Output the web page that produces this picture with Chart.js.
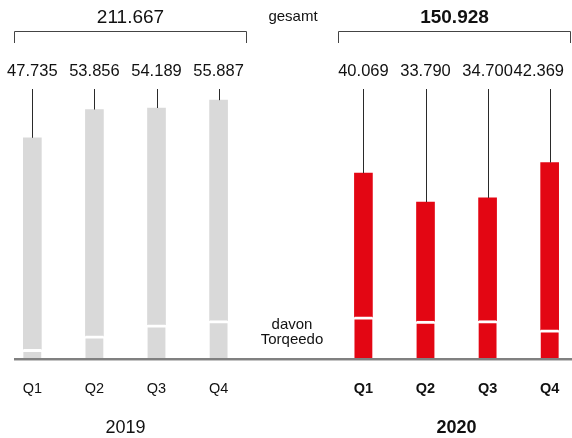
<!DOCTYPE html>
<html><head><meta charset="utf-8">
<script src="https://cdn.jsdelivr.net/npm/chart.js@4.4.0/dist/chart.umd.min.js"></script>
<style>html,body{margin:0;padding:0;background:#fff;}#wrap{width:572px;height:438px;}</style>
</head><body><div id="wrap"><canvas id="c" width="572" height="438"></canvas></div>
<script>
// ---- data ----
const quarters = ['Q1', 'Q2', 'Q3', 'Q4'];
const years = ['2019', '2020'];
const total2019 = [47735, 53856, 54189, 55887];
const total2020 = [40069, 33790, 34700, 42369];
const torq2019 = [1900, 4800, 7200, 8100];
const torq2020 = [8900, 8000, 8100, 6100];
const totalLabel = 'gesamt';
const torqLabel = ['davon', 'Torqeedo'];

// ---- styles ----
const FONT = "'Liberation Sans', Arial, Helvetica, sans-serif";
const TXT = '#111';
const groupColors = ['#d9d9d9', '#e30613'];

function fmt(n) {
  return String(n).replace(/\B(?=(\d{3})+(?!\d))/g, '.');
}

// slot layout: each quarter takes 3 category slots, 6 empty slots between years
const SLOT = 3, GROUP_START = [0, 16], NSLOTS = 26;
const totals = [total2019, total2020];
const torqs = [torq2019, torq2020];
const labels = new Array(NSLOTS).fill('');
const torqData = new Array(NSLOTS).fill(null);
const restData = new Array(NSLOTS).fill(null);
const colors = new Array(NSLOTS).fill('#fff');
const slotGroup = new Array(NSLOTS).fill(-1);
const barSlots = [[], []];
for (let g = 0; g < 2; g++) {
  for (let q = 0; q < quarters.length; q++) {
    const s = GROUP_START[g] + q * SLOT;
    labels[s] = quarters[q];
    torqData[s] = torqs[g][q];
    restData[s] = totals[g][q] - torqs[g][q];
    colors[s] = groupColors[g];
    slotGroup[s] = g;
    barSlots[g].push(s);
  }
}

const overlay = {
  id: 'overlay',
  afterDraw(chart) {
    const c = chart.ctx;
    const meta = chart.getDatasetMeta(1);
    c.save();
    // baseline
    c.fillStyle = '#808080';
    c.fillRect(14, 358, 558, 2);
    c.fillStyle = '#c4c4c4';
    c.fillRect(14, 360, 558, 1);

    const bracketPad = [[18, 27], [25, 20]];
    for (let g = 0; g < 2; g++) {
      const xs = barSlots[g].map(s => meta.data[s].x);
      // leader lines & value labels
      barSlots[g].forEach((s, q) => {
        const el = meta.data[s];
        const lx = Math.round(el.x) + 0.5;
        c.strokeStyle = '#2a2a2a';
        c.lineWidth = 1;
        c.beginPath();
        c.moveTo(lx, 89);
        c.lineTo(lx, el.y);
        c.stroke();
        c.fillStyle = TXT;
        c.font = '16.5px ' + FONT;
        c.textAlign = 'center';
        c.textBaseline = 'alphabetic';
        const t = fmt(totals[g][q]);
        const w = c.measureText(t).width;
        let cx = el.x;
        if (cx + w / 2 > 564) cx = 564 - w / 2;
        if (cx - w / 2 < 3) cx = 3 + w / 2;
        c.fillText(t, cx, 76);
      });
      // bracket
      const L = Math.round(xs[0] - bracketPad[g][0]) + 0.5;
      const R = Math.round(xs[3] + bracketPad[g][1]) + 0.5;
      c.strokeStyle = '#444';
      c.lineWidth = 1;
      c.beginPath();
      c.moveTo(L, 43);
      c.lineTo(L, 31.5);
      c.lineTo(R, 31.5);
      c.lineTo(R, 43);
      c.stroke();
      const sum = totals[g].reduce((a, b) => a + b, 0);
      c.fillStyle = TXT;
      c.font = (g === 1 ? 'bold ' : '') + '19px ' + FONT;
      c.textAlign = 'center';
      c.fillText(fmt(sum), (L + R) / 2, 23);
      // year label
      c.font = (g === 1 ? 'bold ' : '') + '18px ' + FONT;
      c.fillText(years[g], (xs[0] + xs[3]) / 2, 433);
    }
    // middle texts
    c.fillStyle = TXT;
    c.textAlign = 'center';
    c.font = '15px ' + FONT;
    c.fillText(totalLabel, 293, 21);
    c.fillText(torqLabel[0], 292, 329);
    c.fillText(torqLabel[1], 292, 344);
    c.restore();
  }
};

new Chart(document.getElementById('c'), {
  type: 'bar',
  data: {
    labels: labels,
    datasets: [
      { label: torqLabel.join(' '), data: torqData, backgroundColor: colors,
        borderColor: '#ffffff', borderWidth: { top: 3, left: 0, right: 0, bottom: 0 },
        barThickness: 18, stack: 's' },
      { label: totalLabel, data: restData, backgroundColor: colors,
        borderWidth: 0, barThickness: 18, stack: 's' }
    ]
  },
  options: {
    responsive: false,
    animation: false,
    events: [],
    layout: { padding: { left: 22, right: 12, top: 12, bottom: 0 } },
    plugins: { legend: { display: false }, tooltip: { enabled: false } },
    scales: {
      x: {
        stacked: true,
        grid: { display: false, drawTicks: false },
        border: { display: false },
        afterFit(scale) { scale.height = 80; scale.paddingLeft = 0; scale.paddingRight = 0; },
        ticks: {
          autoSkip: false, maxRotation: 0, minRotation: 0, padding: 22,
          color: TXT,
          font: (ctx) => ({ family: FONT, size: 14.5, weight: slotGroup[ctx.index] === 1 ? 'bold' : 'normal' })
        }
      },
      y: { stacked: true, display: false, min: 0, max: 75000 }
    }
  },
  plugins: [overlay]
});
</script>
</body></html>
